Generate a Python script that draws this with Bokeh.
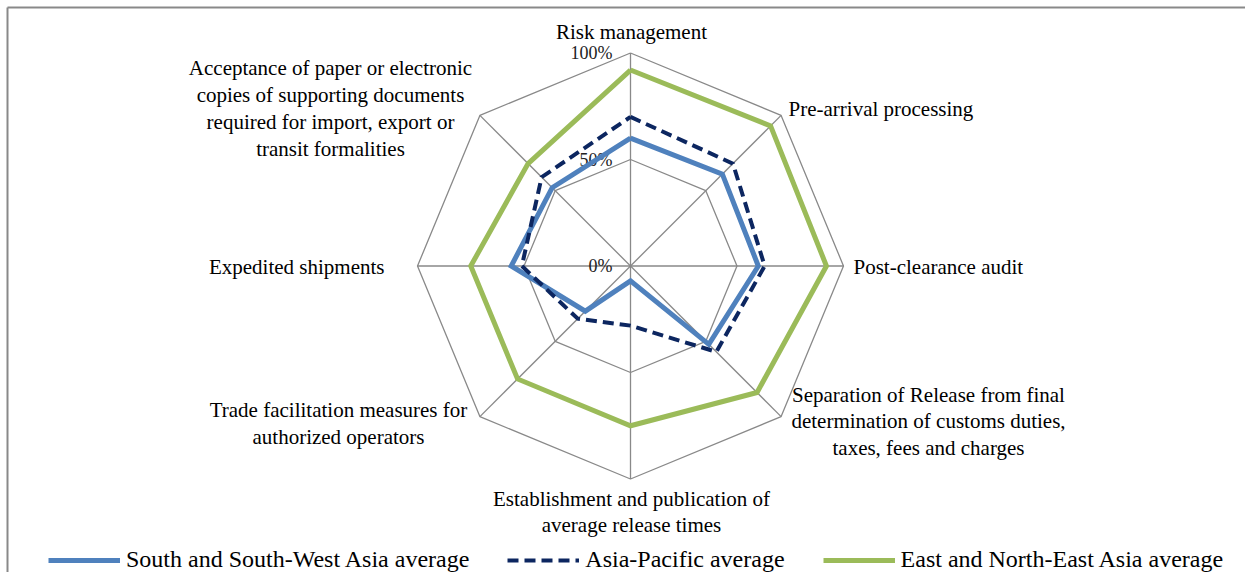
import numpy as np
from bokeh.plotting import figure
from bokeh.models import Range1d, Legend, LegendItem, ColumnDataSource
from bokeh.core.properties import value
from bokeh.embed import file_html
from bokeh.resources import INLINE

# ---------------- data ----------------
categories = [
    "Risk management",
    "Pre-arrival processing",
    "Post-clearance audit",
    "Separation of Release from final\ndetermination of customs duties,\ntaxes, fees and charges",
    "Establishment and publication of\naverage release times",
    "Trade facilitation measures for\nauthorized operators",
    "Expedited shipments",
    "Acceptance of paper or electronic\ncopies of supporting documents\nrequired for import, export or\ntransit formalities",
]
south_sw_asia = [0.60, 0.61, 0.60, 0.52, 0.07, 0.30, 0.56, 0.52]
asia_pacific = [0.70, 0.68, 0.63, 0.57, 0.28, 0.35, 0.51, 0.59]
east_ne_asia = [0.92, 0.93, 0.92, 0.84, 0.75, 0.75, 0.75, 0.68]
ring_levels = [0.5, 1.0]
tick_levels = [1.0, 0.5, 0.0]
tick_labels = ["100%", "50%", "0%"]
series_names = ["South and South-West Asia average", "Asia-Pacific average",
                "East and North-East Asia average"]

# ---------------- layout ----------------
W, H = 1245, 572
CX, CY, R = 630.0, 265.5, 213.0
FONT = "Liberation Serif"
GRID = "#898989"

n = len(categories)
theta = np.deg2rad(90 - 45 * np.arange(n))


def to_xy(vals):
    v = np.asarray(vals, dtype=float)
    xs = CX + v * R * np.cos(theta)
    ys = CY - v * R * np.sin(theta)
    return list(xs) + [xs[0]], list(ys) + [ys[0]]


p = figure(width=W, height=H, output_backend="svg", toolbar_location=None,
           x_range=Range1d(0, W), y_range=Range1d(H, 0),
           min_border=0, background_fill_color="white", border_fill_color="white")
p.axis.visible = False
p.grid.visible = False
p.outline_line_color = None

# chart border (left and top visible in the window)
p.segment(x0=[7, 7], y0=[7, 7], x1=[7, W], y1=[H, 7],
          line_color=GRID, line_width=2)

# rings
for lv in ring_levels:
    xs, ys = to_xy([lv] * n)
    p.line(xs, ys, line_color=GRID, line_width=1.3)
# spokes
ex, ey = to_xy([1.0] * n)
p.segment(x0=[CX] * n, y0=[CY] * n, x1=ex[:n], y1=ey[:n], line_color=GRID, line_width=1.3)

# tick labels
p.text(x=[612] * len(tick_levels), y=[CY - t * R for t in tick_levels], text=tick_labels,
       text_font=value(FONT), text_font_size="18px", text_align="right",
       text_baseline="middle", text_color="#222222")

# series
xs, ys = to_xy(south_sw_asia)
r1 = p.line(xs, ys, line_color="#4F81BD", line_width=5, line_join="miter")
xs, ys = to_xy(asia_pacific)
r2 = p.line(xs, ys, line_color="#0C2660", line_width=4, line_dash="11 6", line_join="miter")
xs, ys = to_xy(east_ne_asia)
r3 = p.line(xs, ys, line_color="#9BBB59", line_width=5, line_join="miter")

# category labels
lab_x = [631, 788, 853, 928, 631, 338, 384, 330]
lab_y = [31, 108, 266, 421, 511.5, 423, 266, 108]
lab_align = ["center", "left", "left", "center", "center", "center", "right", "center"]
src = ColumnDataSource(dict(x=lab_x, y=lab_y, t=categories, a=lab_align))
p.text(x="x", y="y", text="t", text_align="a", source=src,
       text_font=value(FONT), text_font_size="21px", text_baseline="middle",
       text_line_height=1.12, text_color="#000000")

legend = Legend(items=[LegendItem(label=series_names[0], renderers=[r1]),
                       LegendItem(label=series_names[1], renderers=[r2]),
                       LegendItem(label=series_names[2], renderers=[r3])],
                orientation="horizontal", location=(48, -1),
                glyph_width=72, glyph_height=22, label_height=22,
                label_standoff=6, spacing=38, padding=0, margin=0,
                border_line_color=None, background_fill_alpha=0,
                label_text_font=FONT, label_text_font_size="24px",
                label_text_color="#000000", label_text_baseline="middle")
p.add_layout(legend, "center")

open("out.html", "w").write(file_html(p, INLINE))
